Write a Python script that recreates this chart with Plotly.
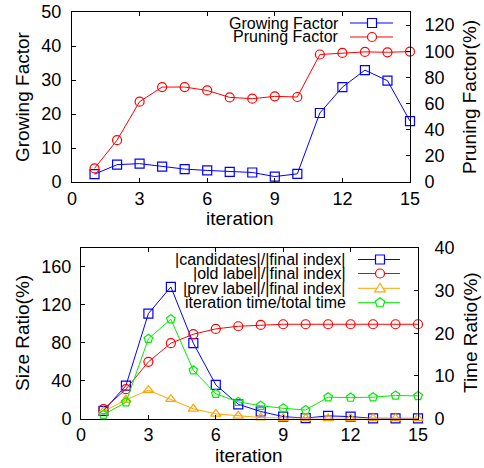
import math
import plotly.graph_objects as go

W, H = 484, 468

iterations = list(range(1, 16))

growing_factor = [2.3, 5.1, 5.4, 4.5, 3.8, 3.4, 3.0, 2.8, 1.6, 2.4, 20.3, 27.9, 32.9, 29.8, 17.9]
pruning_factor = [10.4, 32.0, 61.4, 72.6, 72.6, 70.0, 64.7, 63.7, 65.5, 65.0, 97.5, 98.7, 99.5, 99.2, 99.7]

candidates_ratio = [8.0, 34.8, 110.8, 138.9, 79.5, 35.5, 15.0, 7.4, 2.0, 0.4, 2.8, 2.0, 0.2, 0.1, 0.1]
old_label_ratio = [9.8, 31.0, 59.8, 79.5, 89.0, 94.6, 97.4, 98.8, 99.5, 99.5, 99.5, 99.5, 99.5, 99.5, 99.5]
prev_label_ratio = [7.4, 19.7, 29.9, 20.4, 10.2, 4.9, 2.8, 1.0, 0.4, 0.2, 0.1, 0.1, 0.1, 0.1, 0.1]
time_ratio = [0.9, 3.8, 18.7, 23.3, 11.3, 5.8, 3.9, 3.0, 2.4, 2.0, 5.0, 4.9, 5.0, 5.4, 5.3]

top_legend = ["Growing Factor", "Pruning Factor"]
bottom_legend = ["|candidates|/|final index|", "|old label|/|final index|",
                 "|prev label|/|final index|", "iteration time/total time"]

BLUE, RED, ORANGE, GREEN = "#0000ff", "#ff0000", "#ffa500", "#00ee00"
FONT = "Liberation Sans, Arial, sans-serif"
TICK = 18
TITLE = 19
LEG = 16


def px(x):
    return x / W


def py(y):
    return 1 - y / H


fig = go.Figure()

def add(y, name, color, symbol, xa, ya):
    fig.add_trace(go.Scatter(
        x=iterations, y=y, name=name, mode="lines+markers", xaxis=xa, yaxis=ya,
        line=dict(color=color, width=1),
        marker=dict(symbol=symbol, size=9, color=color, line=dict(color=color, width=1.2)),
        cliponaxis=False, showlegend=False))

add(growing_factor, top_legend[0], BLUE, "square-open", "x", "y")
add(pruning_factor, top_legend[1], RED, "circle-open", "x", "y2")
add(candidates_ratio, bottom_legend[0], BLUE, "square-open", "x2", "y3")
add(old_label_ratio, bottom_legend[1], RED, "circle-open", "x2", "y3")
add(prev_label_ratio, bottom_legend[2], ORANGE, "triangle-up-open", "x2", "y3")
add(time_ratio, bottom_legend[3], GREEN, "pentagon-open", "x2", "y4")

common = dict(showline=True, linecolor="black", linewidth=1, showgrid=False, zeroline=False,
              ticks="inside", ticklen=4, tickcolor="black", automargin=False,
              tickfont=dict(family=FONT, size=TICK, color="black"))

top_dom_x = [px(72), px(410)]
top_dom_y = [py(182), py(12)]
bot_dom_x = [px(81), px(418)]
bot_dom_y = [py(418.5), py(248)]

fig.update_layout(
    template="none",
    width=W, height=H, margin=dict(l=0, r=0, t=0, b=0, pad=0), autosize=False,
    paper_bgcolor="white", plot_bgcolor="white", showlegend=False,
    font=dict(family=FONT, color="black"),
    xaxis=dict(domain=top_dom_x, anchor="y", range=[0, 15], tick0=0, dtick=3,
               mirror="ticks", ticklabelstandoff=0, **common),
    yaxis=dict(domain=top_dom_y, anchor="x", range=[0, 50], tick0=0, dtick=10,
               mirror=True, ticklabelstandoff=6, **common),
    yaxis2=dict(domain=top_dom_y, anchor="x", overlaying="y", side="right",
                range=[0, 130], tickvals=[0, 20, 40, 60, 80, 100, 120],
                ticklabelstandoff=10, **common),
    xaxis2=dict(domain=bot_dom_x, anchor="y3", range=[0, 15], tick0=0, dtick=3,
                mirror="ticks", ticklabelstandoff=0, **common),
    yaxis3=dict(domain=bot_dom_y, anchor="x2", range=[0, 180],
                tickvals=[0, 40, 80, 120, 160], mirror=True, ticklabelstandoff=5, **common),
    yaxis4=dict(domain=bot_dom_y, anchor="x2", overlaying="y3", side="right",
                range=[0, 40], tick0=0, dtick=10, ticklabelstandoff=12, **common),
)

annotations = []
shapes = []

def title(text, x, y, angle=0):
    annotations.append(dict(text=text, x=px(x), y=py(y), xref="paper", yref="paper",
                            xanchor="center", yanchor="middle", showarrow=False,
                            textangle=angle, font=dict(family=FONT, size=TITLE, color="black")))

title("Growing Factor", 22, 97, -90)
title("Pruning Factor(%)", 469, 97, -90)
title("iteration", 240, 218)
title("Size Ratio(%)", 22, 333, -90)
title("Time Ratio(%)", 470, 333, -90)
title("iteration", 249, 455)


def legend_entry(text, color, symbol, text_right, y, lx0, lx1, mx):
    annotations.append(dict(text=text, x=px(text_right), y=py(y), xref="paper", yref="paper",
                            xanchor="right", yanchor="middle", showarrow=False,
                            font=dict(family=FONT, size=LEG, color="black")))
    shapes.append(dict(type="line", xref="paper", yref="paper", x0=px(lx0), x1=px(lx1),
                       y0=py(y), y1=py(y), line=dict(color=color, width=1)))
    r = 4.5
    style = dict(xref="paper", yref="paper", line=dict(color=color, width=1.2), fillcolor="white")
    if symbol == "square":
        shapes.append(dict(type="rect", x0=px(mx - r), x1=px(mx + r), y0=py(y + r), y1=py(y - r), **style))
    elif symbol == "circle":
        shapes.append(dict(type="circle", x0=px(mx - r), x1=px(mx + r), y0=py(y + r), y1=py(y - r), **style))
    elif symbol == "triangle":
        pts = [(mx, y - 5), (mx + 5.2, y + 3.5), (mx - 5.2, y + 3.5)]
        path = "M " + " L ".join(f"{px(a)},{py(b)}" for a, b in pts) + " Z"
        shapes.append(dict(type="path", path=path, **style))
    elif symbol == "pentagon":
        pts = []
        for k in range(5):
            ang = -math.pi / 2 + k * 2 * math.pi / 5
            pts.append((mx + 5 * math.cos(ang), y + 5 * math.sin(ang)))
        path = "M " + " L ".join(f"{px(a)},{py(b)}" for a, b in pts) + " Z"
        shapes.append(dict(type="path", path=path, **style))

legend_entry(top_legend[0], BLUE, "square", 341, 23, 350, 393, 372)
legend_entry(top_legend[1], RED, "circle", 341, 37, 350, 393, 372)

for i, (c, s) in enumerate(zip([BLUE, RED, ORANGE, GREEN], ["square", "circle", "triangle", "pentagon"])):
    legend_entry(bottom_legend[i], c, s, 348, [259.5, 273.5, 288.3, 302.7][i], 358, 400, 380)

fig.update_layout(annotations=annotations, shapes=shapes)

fig.write_html(
    "out.html",
    config={"displayModeBar": False},
    post_script="document.body.style.margin='0';document.body.style.overflow='hidden';"
                "document.documentElement.style.overflow='hidden';",
)
